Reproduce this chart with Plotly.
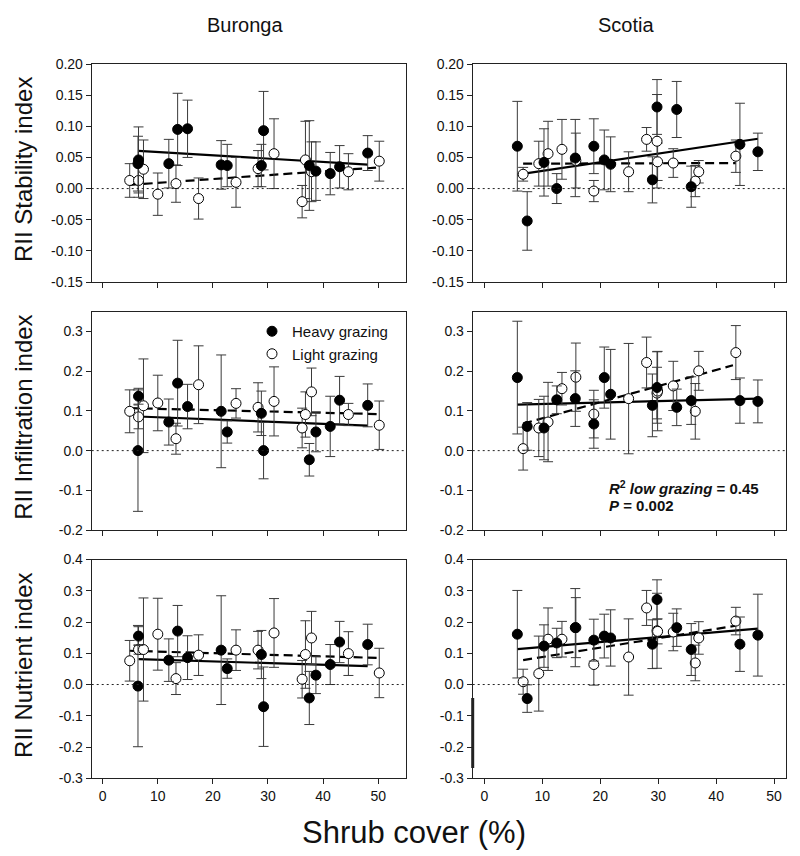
import plotly.graph_objects as go

W, H = 800, 856
FONT = "Liberation Sans, Arial, sans-serif"

# ---------------- data ----------------
# Shrub cover (%) of sites
bur_heavy_x = [6.5, 6.4, 12.0, 13.6, 15.4, 21.5, 22.6, 28.8, 29.2, 37.5, 38.7, 41.3, 43.0, 48.1]
bur_light_x = [4.9, 6.5, 7.4, 10.0, 13.3, 17.4, 24.2, 28.2, 31.1, 36.2, 36.8, 37.9, 44.6, 50.2]
sco_heavy_x = [5.7, 7.4, 10.3, 12.5, 15.7, 18.9, 20.7, 21.8, 29.0, 29.8, 33.2, 35.7, 44.1, 47.2]
sco_light_x = [6.7, 9.4, 11.0, 13.4, 15.8, 18.9, 24.9, 28.0, 29.8, 29.9, 32.6, 36.4, 37.0, 43.4]

# Buronga - Stability
bur_stab_heavy = [0.046, 0.040, 0.040, 0.095, 0.096, 0.038, 0.037, 0.037, 0.093, 0.037, 0.028, 0.024, 0.035, 0.057]
bur_stab_heavy_err = [0.053, 0.044, 0.039, 0.058, 0.046, 0.039, 0.034, 0.034, 0.063, 0.072, 0.047, 0.034, 0.034, 0.028]
bur_stab_light = [0.013, 0.013, 0.031, -0.009, 0.008, -0.016, 0.010, 0.032, 0.056, -0.021, 0.046, 0.027, 0.027, 0.044]
bur_stab_light_err = [0.027, 0.027, 0.047, 0.034, 0.030, 0.033, 0.040, 0.029, 0.056, 0.026, 0.062, 0.048, 0.029, 0.032]

# Scotia - Stability
sco_stab_heavy = [0.068, -0.052, 0.042, 0.0, 0.049, 0.068, 0.046, 0.039, 0.014, 0.131, 0.127, 0.003, 0.071, 0.059]
sco_stab_heavy_err = [0.072, 0.047, 0.054, 0.024, 0.062, 0.044, 0.048, 0.044, 0.037, 0.044, 0.045, 0.033, 0.066, 0.030]
sco_stab_light = [0.023, 0.040, 0.056, 0.063, 0.045, -0.004, 0.027, 0.079, 0.076, 0.043, 0.041, 0.012, 0.027, 0.052]
sco_stab_light_err = [0.011, 0.036, 0.052, 0.048, 0.044, 0.017, 0.032, 0.019, 0.075, 0.030, 0.023, 0.025, 0.018, 0.026]

# Buronga - Infiltration
bur_inf_heavy = [0.137, 0.0, 0.072, 0.170, 0.111, 0.099, 0.047, 0.094, 0.0, -0.023, 0.047, 0.061, 0.127, 0.114]
bur_inf_heavy_err = [0.020, 0.153, 0.058, 0.108, 0.056, 0.142, 0.028, 0.056, 0.071, 0.041, 0.050, 0.076, 0.060, 0.054]
bur_inf_light = [0.099, 0.085, 0.113, 0.120, 0.030, 0.166, 0.119, 0.109, 0.124, 0.057, 0.091, 0.148, 0.091, 0.064]
bur_inf_light_err = [0.054, 0.030, 0.118, 0.070, 0.039, 0.098, 0.037, 0.062, 0.087, 0.050, 0.057, 0.060, 0.028, 0.061]

# Scotia - Infiltration
sco_inf_heavy = [0.184, 0.061, 0.057, 0.128, 0.131, 0.067, 0.184, 0.142, 0.114, 0.159, 0.109, 0.126, 0.126, 0.124]
sco_inf_heavy_err = [0.142, 0.060, 0.080, 0.035, 0.070, 0.061, 0.077, 0.113, 0.079, 0.090, 0.046, 0.060, 0.057, 0.054]
sco_inf_light = [0.005, 0.057, 0.072, 0.156, 0.185, 0.092, 0.131, 0.222, 0.145, 0.150, 0.163, 0.099, 0.201, 0.247]
sco_inf_light_err = [0.054, 0.072, 0.100, 0.041, 0.086, 0.060, 0.139, 0.064, 0.065, 0.100, 0.062, 0.070, 0.049, 0.068]

# Buronga - Nutrient
bur_nut_heavy = [0.155, -0.005, 0.078, 0.171, 0.086, 0.110, 0.051, 0.096, -0.071, -0.043, 0.030, 0.064, 0.136, 0.128]
bur_nut_heavy_err = [0.030, 0.194, 0.068, 0.082, 0.070, 0.174, 0.031, 0.077, 0.127, 0.085, 0.059, 0.064, 0.066, 0.065]
bur_nut_light = [0.076, 0.112, 0.112, 0.161, 0.019, 0.094, 0.110, 0.110, 0.165, 0.017, 0.096, 0.149, 0.099, 0.037]
bur_nut_light_err = [0.065, 0.015, 0.165, 0.115, 0.051, 0.065, 0.065, 0.060, 0.110, 0.060, 0.108, 0.085, 0.070, 0.079]

# Scotia - Nutrient
sco_nut_heavy = [0.161, -0.045, 0.123, 0.133, 0.182, 0.142, 0.155, 0.149, 0.129, 0.272, 0.182, 0.112, 0.129, 0.158]
sco_nut_heavy_err = [0.140, 0.044, 0.068, 0.047, 0.125, 0.067, 0.070, 0.090, 0.078, 0.063, 0.060, 0.083, 0.087, 0.131]
sco_nut_light = [0.009, 0.035, 0.145, 0.145, 0.182, 0.064, 0.088, 0.245, 0.172, 0.170, 0.168, 0.069, 0.149, 0.203]
sco_nut_light_err = [0.040, 0.120, 0.100, 0.057, 0.096, 0.066, 0.122, 0.056, 0.120, 0.040, 0.060, 0.057, 0.052, 0.044]

# Fitted regression lines (end points)
fit_heavy_x = [[6.5, 48.1], [5.7, 47.2], [6.5, 48.1], [5.7, 47.2], [6.5, 48.1], [5.7, 47.2]]
fit_heavy_y = [[0.0606, 0.0386], [0.0224, 0.080], [0.086, 0.063], [0.116, 0.131], [0.081, 0.059], [0.113, 0.179]]
fit_light_x = [[4.9, 50.2], [6.7, 43.4], [4.9, 50.2], [6.7, 42.9], [4.9, 50.2], [6.7, 43.3]]
fit_light_y = [[0.006, 0.034], [0.040, 0.041], [0.107, 0.092], [0.068, 0.215], [0.108, 0.085], [0.078, 0.188]]

site_titles = ["Buronga", "Scotia"]
row_titles = ["RII Stability index", "RII Infiltration index", "RII Nutrient index"]
x_ticks = [0, 10, 20, 30, 40, 50]
y_ticks_rows = [
    [-0.15, -0.10, -0.05, 0.0, 0.05, 0.10, 0.15, 0.20],
    [-0.2, -0.1, 0.0, 0.1, 0.2, 0.3],
    [-0.3, -0.2, -0.1, 0.0, 0.1, 0.2, 0.3, 0.4],
]
y_tick_text_rows = [
    ["-0.15", "-0.10", "-0.05", "0.00", "0.05", "0.10", "0.15", "0.20"],
    ["-0.2", "-0.1", "0.0", "0.1", "0.2", "0.3"],
    ["-0.3", "-0.2", "-0.1", "0.0", "0.1", "0.2", "0.3", "0.4"],
]
y_ranges = [[-0.15, 0.20], [-0.2, 0.35], [-0.3, 0.4]]
x_ranges = [[-2, 55], [-2, 52]]

panels = [
    (bur_heavy_x, bur_stab_heavy, bur_stab_heavy_err, bur_light_x, bur_stab_light, bur_stab_light_err),
    (sco_heavy_x, sco_stab_heavy, sco_stab_heavy_err, sco_light_x, sco_stab_light, sco_stab_light_err),
    (bur_heavy_x, bur_inf_heavy, bur_inf_heavy_err, bur_light_x, bur_inf_light, bur_inf_light_err),
    (sco_heavy_x, sco_inf_heavy, sco_inf_heavy_err, sco_light_x, sco_inf_light, sco_inf_light_err),
    (bur_heavy_x, bur_nut_heavy, bur_nut_heavy_err, bur_light_x, bur_nut_light, bur_nut_light_err),
    (sco_heavy_x, sco_nut_heavy, sco_nut_heavy_err, sco_light_x, sco_nut_light, sco_nut_light_err),
]

# ---------------- layout geometry (screen pixels) ----------------
OFF = 8  # page body margin offset
col_px = [(91.7, 405.7), (472.7, 785.7)]
row_px = [(64, 282), (311.7, 530), (559.5, 778.3)]


def px_x(p):
    return (p - OFF) / W


def px_y(p):
    return 1 - (p - OFF) / H


fig = go.Figure()
layout = dict(
    width=W, height=H,
    margin=dict(l=0, r=0, t=0, b=0, autoexpand=False),
    paper_bgcolor="white", plot_bgcolor="white",
    font=dict(family=FONT, color="#111"),
    showlegend=True,
    shapes=[], annotations=[],
)

AX_COL = "#222"
ERR_COL = "#3a3a3a"

for i, (hx, hy, he, lx, ly, le) in enumerate(panels):
    r, c = i // 2, i % 2
    n = i + 1
    xa = "x" if n == 1 else f"x{n}"
    ya = "y" if n == 1 else f"y{n}"
    xkey = "xaxis" if n == 1 else f"xaxis{n}"
    ykey = "yaxis" if n == 1 else f"yaxis{n}"
    layout[xkey] = dict(
        domain=[px_x(col_px[c][0]), px_x(col_px[c][1])],
        anchor=ya, range=x_ranges[c], automargin=False,
        tickvals=x_ticks, ticktext=[str(v) for v in x_ticks],
        showticklabels=(r == 2),
        ticks="outside", ticklen=5, tickwidth=1, tickcolor=AX_COL,
        showline=True, linecolor=AX_COL, linewidth=1, mirror=True,
        showgrid=False, zeroline=False,
        tickfont=dict(size=14, family=FONT, color="#111"),
    )
    layout[ykey] = dict(
        domain=[px_y(row_px[r][1]), px_y(row_px[r][0])],
        anchor=xa, range=y_ranges[r], automargin=False,
        tickvals=y_ticks_rows[r], ticktext=y_tick_text_rows[r],
        ticks="outside", ticklen=5, tickwidth=1, tickcolor=AX_COL,
        showline=True, linecolor=AX_COL, linewidth=1, mirror=True,
        showgrid=False, zeroline=False,
        tickfont=dict(size=14, family=FONT, color="#111"),
    )
    # dotted zero line
    layout["shapes"].append(dict(
        type="line", xref=f"{xa} domain", yref=ya,
        x0=0, x1=1, y0=0, y1=0,
        line=dict(color="#222", width=1, dash="2px,3px"),
    ))
    # regression lines
    fig.add_trace(go.Scatter(
        x=fit_light_x[i], y=fit_light_y[i], mode="lines", xaxis=xa, yaxis=ya,
        line=dict(color="black", width=2.2, dash="9px,5px"), showlegend=False, hoverinfo="skip",
    ))
    fig.add_trace(go.Scatter(
        x=fit_heavy_x[i], y=fit_heavy_y[i], mode="lines", xaxis=xa, yaxis=ya,
        line=dict(color="black", width=2.2), showlegend=False, hoverinfo="skip",
    ))
    show_leg = (i == 2)
    fig.add_trace(go.Scatter(
        x=lx, y=ly, mode="markers", xaxis=xa, yaxis=ya, name="Light grazing",
        marker=dict(size=10, color="white", line=dict(color="black", width=1)),
        error_y=dict(type="data", array=le, visible=True, color=ERR_COL, thickness=1, width=5),
        showlegend=show_leg, legendrank=2,
    ))
    fig.add_trace(go.Scatter(
        x=hx, y=hy, mode="markers", xaxis=xa, yaxis=ya, name="Heavy grazing",
        marker=dict(size=10, color="black", line=dict(color="black", width=1)),
        error_y=dict(type="data", array=he, visible=True, color=ERR_COL, thickness=1, width=5),
        showlegend=show_leg, legendrank=1,
    ))

layout["legend"] = dict(
    x=px_x(252), y=px_y(315), xanchor="left", yanchor="top",
    bgcolor="rgba(0,0,0,0)", font=dict(size=15, family=FONT, color="#111"),
    tracegroupgap=0, itemsizing="trace",
)

# thick segment on left axis of the bottom-right panel
layout["shapes"].append(dict(
    type="line", xref="paper", yref="paper",
    x0=px_x(472.7), x1=px_x(472.7), y0=px_y(698), y1=px_y(768),
    line=dict(color="#222", width=3),
))

# column titles
for c, t in enumerate(site_titles):
    cx = [245, 626][c]
    layout["annotations"].append(dict(
        text=t, x=px_x(cx), y=px_y(25), xref="paper", yref="paper",
        showarrow=False, xanchor="center", yanchor="middle",
        font=dict(size=20, family=FONT, color="#111"),
    ))

# row titles
for r, t in enumerate(row_titles):
    cy = (row_px[r][0] + row_px[r][1]) / 2 - 3
    layout["annotations"].append(dict(
        text=t, x=px_x(24), y=px_y(cy), xref="paper", yref="paper",
        showarrow=False, xanchor="center", yanchor="middle", textangle=-90,
        font=dict(size=24, family=FONT, color="#111"),
    ))

# x axis title
layout["annotations"].append(dict(
    text="Shrub cover (%)", x=px_x(414), y=px_y(832), xref="paper", yref="paper",
    showarrow=False, xanchor="center", yanchor="middle",
    font=dict(size=31, family=FONT, color="#111"),
))

# statistics annotation
stat_lines = ["<b><i>R</i><sup>2</sup><i> low grazing</i> = 0.45</b>", "<b><i>P</i> = 0.002</b>"]
for k, t in enumerate(stat_lines):
    layout["annotations"].append(dict(
        text=t, x=px_x(607), y=px_y([487, 505][k]), xref="paper", yref="paper",
        showarrow=False, xanchor="left", yanchor="middle", align="left",
        font=dict(size=15, family=FONT, color="#111"),
    ))

fig.update_layout(**layout)
fig.write_html("out.html")
